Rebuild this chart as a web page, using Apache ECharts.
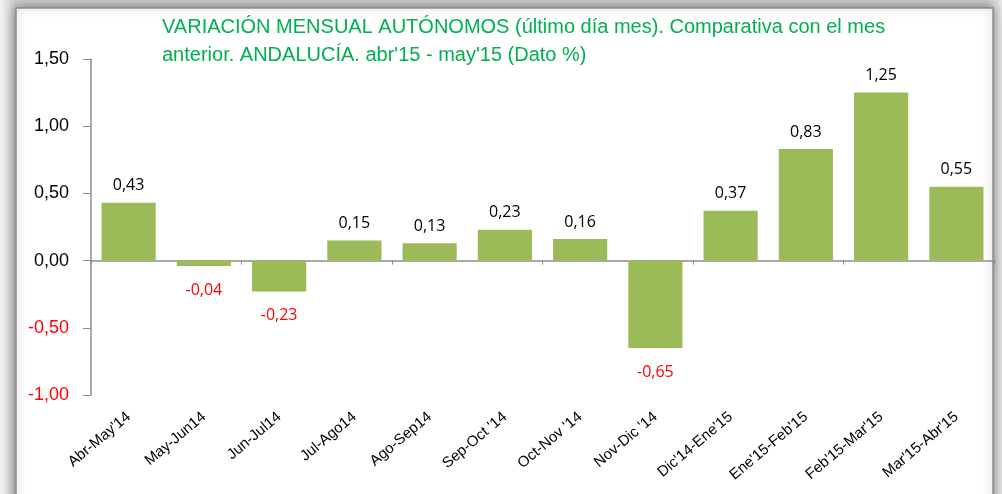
<!DOCTYPE html>
<html>
<head>
<meta charset="utf-8">
<style>
html,body{margin:0;padding:0;background:#fff;}
#chart{width:1002px;height:494px;}
</style>
<script src="https://cdn.jsdelivr.net/npm/echarts@6/dist/echarts.min.js"></script>
</head>
<body>
<div id="chart"></div>
<script>
const titleText = "VARIACIÓN MENSUAL AUTÓNOMOS (último día mes). Comparativa con el mes\nanterior. ANDALUCÍA. abr'15 - may'15 (Dato %)";
const categories = ["Abr-May'14", "May-Jun14", "Jun-Jul14", "Jul-Ago14", "Ago-Sep14", "Sep-Oct '14", "Oct-Nov '14", "Nov-Dic '14", "Dic'14-Ene'15", "Ene'15-Feb'15", "Feb'15-Mar'15", "Mar'15-Abr'15"];
const values = [0.43, -0.04, -0.23, 0.15, 0.13, 0.23, 0.16, -0.65, 0.37, 0.83, 1.25, 0.55];
const yMin = -1, yMax = 1.5, yStep = 0.5;

const fmt = v => v.toFixed(2).replace('.', ',');
const chart = echarts.init(document.getElementById('chart'), null, {renderer: 'canvas'});

const barData = values.map(v => ({
  value: v,
  label: {
    position: v < 0 ? 'bottom' : 'top',
    distance: v < 0 ? 16 : 9,
    color: v < 0 ? '#FF0000' : '#000000'
  }
}));

chart.setOption({
  backgroundColor: '#ffffff',
  animation: false,
  graphic: [
    {type: 'rect', z: -10, silent: true, shape: {x: 0, y: 0, width: 1002, height: 494},
     style: {fill: new echarts.graphic.LinearGradient(0, 0, 1, 0, [
       {offset: 0, color: '#f4f4f4'}, {offset: 0.015, color: '#cccccc'}, {offset: 0.985, color: '#cccccc'}, {offset: 1, color: '#e6e6e6'}])}},
    {type: 'rect', z: -9, silent: true, shape: {x: 16, y: 8, width: 977, height: 500},
     style: {fill: '#ffffff', stroke: '#8c8c8c', lineWidth: 1.5, shadowBlur: 10, shadowColor: 'rgba(0,0,0,0.4)'}}
  ],
  title: {
    text: titleText,
    left: 157,
    top: 8,
    textStyle: {fontFamily: 'Liberation Sans', fontSize: 20, fontWeight: 'normal', color: '#00B050', lineHeight: 28}
  },
  grid: {left: 91, right: 8, top: 59, bottom: 99, containLabel: false},
  xAxis: [
    {
      type: 'category', data: categories, position: 'bottom',
      axisLine: {onZero: true, lineStyle: {color: '#8c8c8c', width: 1.5}},
      axisTick: {show: true, alignWithLabel: false, length: 4, lineStyle: {color: '#8c8c8c'}},
      axisLabel: {show: false},
      splitLine: {show: false}
    },
    {
      type: 'category', data: categories, position: 'bottom',
      axisLine: {show: false, onZero: false},
      axisTick: {show: false},
      axisLabel: {show: true, interval: 0, rotate: 40, margin: 20,
        fontFamily: 'Liberation Sans', fontSize: 15, color: '#000000'},
      splitLine: {show: false}
    }
  ],
  yAxis: {
    type: 'value', min: yMin, max: yMax, interval: yStep,
    axisLine: {show: true, lineStyle: {color: '#8c8c8c', width: 1.5}},
    axisTick: {show: true, length: 8, lineStyle: {color: '#8c8c8c'}},
    splitLine: {show: false},
    axisLabel: {
      margin: 22,
      fontFamily: 'Liberation Sans', fontSize: 18,
      formatter: v => fmt(v),
      color: v => (v < 0 ? '#FF0000' : '#000000')
    }
  },
  series: [{
    type: 'bar',
    xAxisIndex: 0,
    data: barData,
    barCategoryGap: '28%',
    itemStyle: {color: '#9BBB59'},
    label: {
      show: true,
      fontFamily: 'Open Sans', fontSize: 16,
      formatter: p => fmt(p.value)
    }
  }]
});
</script>
</body>
</html>
